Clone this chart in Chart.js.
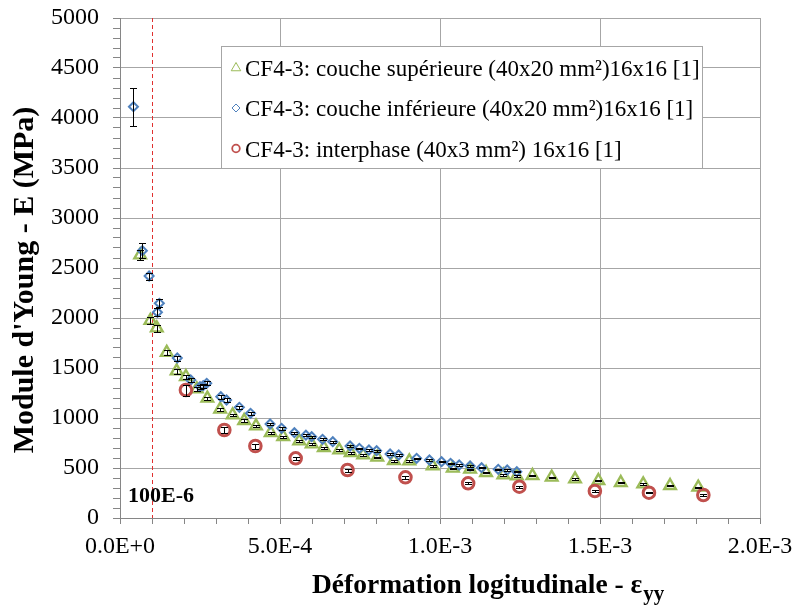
<!DOCTYPE html>
<html><head><meta charset="utf-8">
<script src="https://cdn.jsdelivr.net/npm/chart.js@4/dist/chart.umd.min.js"></script>
<style>html,body{margin:0;padding:0;background:#fff;}canvas{display:block;}</style>
</head><body>
<canvas id="c" width="796" height="606"></canvas>
<script>
// ---- data ----
const seriesLabels = [
  'CF4-3: couche supérieure (40x20 mm²)16x16 [1]',
  'CF4-3: couche inférieure (40x20 mm²)16x16 [1]',
  'CF4-3: interphase (40x3 mm²) 16x16 [1]'
];
const strainSup = [6.3e-5, 9.5e-5, 1.15e-4, 1.46e-4, 1.77e-4, 2.06e-4, 2.40e-4, 2.73e-4, 3.13e-4, 3.52e-4, 3.88e-4, 4.25e-4, 4.71e-4, 5.10e-4, 5.60e-4, 5.99e-4, 6.37e-4, 6.85e-4, 7.21e-4, 7.60e-4, 8.04e-4, 8.56e-4, 9.04e-4, 9.77e-4, 1.040e-3, 1.094e-3, 1.144e-3, 1.198e-3, 1.240e-3, 1.289e-3, 1.349e-3, 1.422e-3, 1.495e-3, 1.565e-3, 1.635e-3, 1.719e-3, 1.807e-3];
const modSup = [2630, 1975, 1900, 1655, 1470, 1413, 1290, 1197, 1087, 1030, 973, 920, 853, 813, 770, 740, 703, 680, 653, 630, 607, 573, 570, 520, 497, 487, 453, 430, 420, 423, 407, 390, 373, 353, 340, 323, 307];
const errSup = [45, 35, 35, 25, 25, 20, 20, 18, 15, 15, 15, 12, 12, 12, 10, 10, 10, 10, 8, 8, 8, 8, 8, 8, 6, 6, 6, 6, 6, 6, 6, 6, 6, 6, 6, 6, 6];

const strainInf = [4.2e-5, 7.0e-5, 9.1e-5, 1.17e-4, 1.23e-4, 1.79e-4, 2.21e-4, 2.50e-4, 2.60e-4, 2.71e-4, 3.15e-4, 3.33e-4, 3.73e-4, 4.08e-4, 4.69e-4, 5.05e-4, 5.45e-4, 5.81e-4, 5.99e-4, 6.33e-4, 6.65e-4, 7.19e-4, 7.48e-4, 7.78e-4, 8.02e-4, 8.44e-4, 8.71e-4, 9.27e-4, 9.67e-4, 1.005e-3, 1.033e-3, 1.060e-3, 1.094e-3, 1.130e-3, 1.182e-3, 1.210e-3, 1.240e-3];
const modInf = [4113, 2673, 2420, 2057, 2147, 1600, 1380, 1313, 1323, 1347, 1213, 1180, 1107, 1047, 940, 897, 853, 828, 813, 787, 763, 720, 697, 680, 673, 640, 630, 597, 580, 563, 547, 530, 520, 503, 487, 480, 463];
const errInf = [190, 75, 35, 40, 40, 25, 20, 20, 20, 20, 18, 18, 15, 15, 12, 12, 12, 10, 10, 10, 10, 8, 8, 8, 8, 8, 8, 6, 6, 6, 6, 6, 6, 6, 6, 6, 6];

const strainInt = [2.06e-4, 3.26e-4, 4.23e-4, 5.49e-4, 7.11e-4, 8.92e-4, 1.088e-3, 1.248e-3, 1.484e-3, 1.653e-3, 1.823e-3];
const modInt = [1280, 880, 720, 597, 480, 407, 347, 313, 270, 253, 230];
const errInt = [55, 30, 25, 18, 15, 12, 10, 8, 8, 6, 6];

const xTickLabels = ['0.0E+0', '5.0E-4', '1.0E-3', '1.5E-3', '2.0E-3'];
const yTickLabels = ['0', '500', '1000', '1500', '2000', '2500', '3000', '3500', '4000', '4500', '5000'];
const refLineX = [1e-4];
const refLineLabel = ['100E-6'];
const xTitle = ['Déformation logitudinale - ε', 'yy'];
const yTitle = "Module d'Young - E (MPa)";

const colors = ['#9BBB59', '#4F81BD', '#C0504D'];
const FONT = '"Liberation Serif", "Times New Roman", serif';

function pts(xs, ys) { return xs.map((x, i) => ({x: x, y: ys[i]})); }

// ---- plugins ----
const refLinePlugin = {
  id: 'refLine',
  beforeDatasetsDraw(chart) {
    const {ctx, chartArea, scales} = chart;
    ctx.save();
    refLineX.forEach((v, i) => {
      const px = Math.round(scales.x.getPixelForValue(v)) + 0.5;
      ctx.strokeStyle = '#E0302F';
      ctx.lineWidth = 1;
      ctx.setLineDash([4, 3]);
      ctx.beginPath();
      ctx.moveTo(px, chartArea.top);
      ctx.lineTo(px, chartArea.bottom);
      ctx.stroke();
      ctx.setLineDash([]);
      ctx.fillStyle = '#000';
      ctx.font = 'bold 22px ' + FONT;
      ctx.textAlign = 'left';
      ctx.textBaseline = 'alphabetic';
      ctx.fillText(refLineLabel[i], 128, 502);
    });
    ctx.restore();
  }
};

const errorBarPlugin = {
  id: 'errorBars',
  afterDatasetsDraw(chart) {
    const {ctx, scales} = chart;
    ctx.save();
    ctx.strokeStyle = '#000';
    ctx.lineWidth = 1;
    chart.data.datasets.forEach((ds) => {
      ds.data.forEach((p, j) => {
        const e = ds.errors[j];
        const px = Math.round(scales.x.getPixelForValue(p.x)) + 0.5;
        const y1 = Math.round(scales.y.getPixelForValue(p.y + e)) + 0.5;
        const y2 = Math.round(scales.y.getPixelForValue(p.y - e)) + 0.5;
        ctx.beginPath();
        ctx.moveTo(px, y1); ctx.lineTo(px, y2);
        ctx.moveTo(px - 3.5, y1); ctx.lineTo(px + 3.5, y1);
        ctx.moveTo(px - 3.5, y2); ctx.lineTo(px + 3.5, y2);
        ctx.stroke();
      });
    });
    ctx.restore();
  }
};

const decorPlugin = {
  id: 'decor',
  afterDraw(chart) {
    const {ctx} = chart;
    ctx.save();
    // legend box
    const lx = 221.5, ly = 46.5, lw = 481, lh = 122;
    ctx.fillStyle = '#fff';
    ctx.fillRect(lx, ly, lw, lh);
    ctx.strokeStyle = '#A6A6A6';
    ctx.lineWidth = 1;
    ctx.strokeRect(lx, ly, lw, lh);
    const baselines = [76, 116, 156.5];
    chart.data.datasets.forEach((ds, i) => {
      const my = baselines[i] - 8;
      const mx = 236;
      ctx.strokeStyle = colors[i];
      ctx.beginPath();
      if (i === 0) {
        ctx.lineWidth = 1;
        const r = 5.5;
        ctx.moveTo(mx, my - r);
        ctx.lineTo(mx + r * 0.866, my + r / 2);
        ctx.lineTo(mx - r * 0.866, my + r / 2);
        ctx.closePath();
      } else if (i === 1) {
        ctx.lineWidth = 1;
        const r = 4;
        ctx.moveTo(mx - r, my); ctx.lineTo(mx, my - r);
        ctx.lineTo(mx + r, my); ctx.lineTo(mx, my + r);
        ctx.closePath();
      } else {
        ctx.lineWidth = 1.8;
        ctx.arc(mx, my, 3.8, 0, Math.PI * 2);
      }
      ctx.stroke();
      ctx.fillStyle = '#000';
      ctx.font = '23px ' + FONT;
      ctx.textAlign = 'left';
      ctx.textBaseline = 'alphabetic';
      ctx.fillText(ds.label, 245, baselines[i]);
    });
    // y title
    ctx.save();
    ctx.translate(33, 280);
    ctx.rotate(-Math.PI / 2);
    ctx.font = 'bold 30px ' + FONT;
    ctx.textAlign = 'center';
    ctx.textBaseline = 'alphabetic';
    ctx.fillStyle = '#000';
    ctx.fillText(yTitle, 0, 0);
    ctx.restore();
    // x title with subscript
    ctx.fillStyle = '#000';
    ctx.textAlign = 'left';
    ctx.textBaseline = 'alphabetic';
    ctx.font = 'bold 27.5px ' + FONT;
    ctx.fillText(xTitle[0], 312, 593);
    const w = ctx.measureText(xTitle[0]).width;
    ctx.font = 'bold 21px ' + FONT;
    ctx.fillText(xTitle[1], 312 + w + 1, 600);
    ctx.restore();
  }
};

function zeroPad(s) { s.paddingTop = 0; s.paddingBottom = 0; s.paddingLeft = 0; s.paddingRight = 0; }

// ---- chart ----
const gridGray = '#A6A6A6';
const axisGray = '#868686';

new Chart(document.getElementById('c'), {
  type: 'scatter',
  data: {
    datasets: [
      {label: seriesLabels[0], data: pts(strainSup, modSup), errors: errSup,
       pointStyle: 'triangle', pointRadius: 6.7, pointBorderWidth: 2.4,
       borderColor: colors[0], backgroundColor: 'rgba(0,0,0,0)', order: 2},
      {label: seriesLabels[1], data: pts(strainInf, modInf), errors: errInf,
       pointStyle: 'rectRot', pointRadius: 4.5, pointBorderWidth: 2,
       borderColor: colors[1], backgroundColor: 'rgba(0,0,0,0)', order: 1},
      {label: seriesLabels[2], data: pts(strainInt, modInt), errors: errInt,
       pointStyle: 'circle', pointRadius: 5.8, pointBorderWidth: 3,
       borderColor: colors[2], backgroundColor: 'rgba(0,0,0,0)', order: 0}
    ]
  },
  options: {
    responsive: false,
    animation: false,
    devicePixelRatio: 1,
    layout: {padding: {left: 0, right: 36, top: 18, bottom: 0}},
    plugins: {legend: {display: false}, tooltip: {enabled: false}, title: {display: false}},
    scales: {
      x: {
        type: 'linear', min: 0, max: 0.002,
        afterFit(s) { s.height = 88; zeroPad(s); },
        ticks: {
          stepSize: 0.0001, maxTicksLimit: 100, autoSkip: false, maxRotation: 0, minRotation: 0,
          padding: 8, color: '#000', font: {family: FONT, size: 24, lineHeight: 1.2},
          callback(v) {
            const k = Math.round(v / 0.0001);
            return k % 5 === 0 ? xTickLabels[k / 5] : '';
          }
        },
        grid: {
          color(ctx) { const k = Math.round(ctx.tick.value / 0.0001); return k % 5 === 0 ? gridGray : 'rgba(0,0,0,0)'; },
          tickColor: axisGray, tickLength: 6, lineWidth: 1
        },
        border: {color: axisGray, width: 1}
      },
      y: {
        type: 'linear', min: 0, max: 5000,
        afterFit(s) { s.width = 120; zeroPad(s); },
        ticks: {
          stepSize: 100, maxTicksLimit: 100, autoSkip: false,
          padding: 14, color: '#000', font: {family: FONT, size: 24, lineHeight: 1.2},
          callback(v) {
            const k = Math.round(v / 100);
            return k % 5 === 0 ? yTickLabels[k / 5] : '';
          }
        },
        grid: {
          color(ctx) { const k = Math.round(ctx.tick.value / 100); return k % 5 === 0 ? gridGray : 'rgba(0,0,0,0)'; },
          tickColor: axisGray, tickLength: 7, lineWidth: 1
        },
        border: {color: axisGray, width: 1}
      }
    }
  },
  plugins: [refLinePlugin, errorBarPlugin, decorPlugin]
});
</script>
</body></html>
